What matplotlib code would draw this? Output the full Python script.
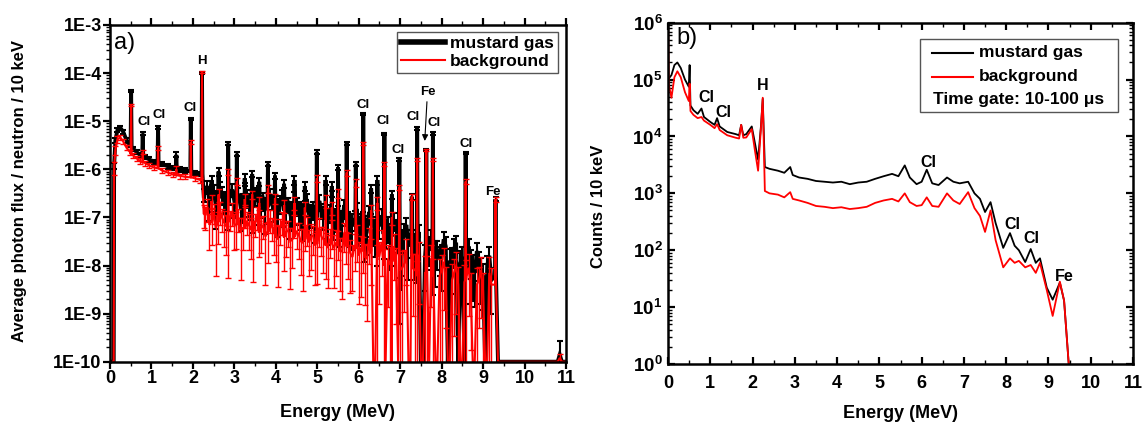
"""
Prompt gamma spectra: mustard gas vs background
a) simulated photon flux with error bars, b) measured counts with time gate
"""

import numpy as np
import matplotlib.pyplot as plt
from matplotlib.ticker import LogLocator, MultipleLocator, NullFormatter, FuncFormatter, FixedLocator
from matplotlib.lines import Line2D
from matplotlib.patches import Rectangle

plt.rcParams['font.family'] = ['Liberation Sans', 'DejaVu Sans']
plt.rcParams['font.weight'] = 'bold'
plt.rcParams['mathtext.fontset'] = 'custom'
plt.rcParams['mathtext.bf'] = 'Liberation Sans:bold'
plt.rcParams['mathtext.rm'] = 'Liberation Sans'

# ---------------- panel a data (photon flux / neutron / 10 keV) ----------------
# low-energy continuum (below the H line)
E_LOW = [0.00, 0.09, 0.10, 0.13, 0.18, 0.25, 0.32, 0.40, 0.48, 0.56, 0.64, 0.72,
         0.85, 0.95, 1.05, 1.25, 1.40, 1.52, 1.70, 1.80, 2.05, 2.18, 2.26]
MUSTARD_LOW = [1e-10, 1e-10, 1.2e-6, 4.0e-6, 6.5e-6, 7.3e-6, 6.0e-6, 4.0e-6, 3.2e-6, 2.7e-6,
               2.3e-6, 2.0e-6, 1.8e-6, 1.6e-6, 1.45e-6, 1.3e-6, 1.15e-6, 1.05e-6, 1.0e-6,
               9.5e-7, 8.5e-7, 8.0e-7, 3.0e-7]
BACKGR_LOW = [1e-10, 1e-10, 1.1e-6, 2.5e-6, 4.2e-6, 4.6e-6, 3.8e-6, 2.8e-6, 2.3e-6, 1.95e-6,
              1.7e-6, 1.5e-6, 1.35e-6, 1.2e-6, 1.1e-6, 9.5e-7, 8.5e-7, 7.8e-7, 7.3e-7,
              7.0e-7, 6.5e-7, 6.0e-7, 1.2e-7]
MUSTARD_LOW_ERR = [0, 0, 0.15, 0.12, 0.1, 0.1, 0.1, 0.1, 0.1, 0.1, 0.1, 0.1,
                   0.1, 0.1, 0.1, 0.1, 0.1, 0.1, 0.1, 0.1, 0.1, 0.1, 0.3]
BACKGR_LOW_ERR = [0, 0, 0.3, 0.2, 0.15, 0.12, 0.12, 0.12, 0.12, 0.12, 0.12, 0.12,
                  0.12, 0.12, 0.12, 0.12, 0.12, 0.12, 0.12, 0.12, 0.12, 0.12, 0.5]

# continuum 2.3 .. 9.2 MeV, 0.1 MeV steps
E_GRID = np.round(np.arange(2.3, 9.25, 0.1), 2)
MUSTARD_GRID = [3.2e-7, 2.1e-7, 3.6e-7, 2.4e-7, 3.0e-7, 2.0e-7, 2.8e-7, 2.2e-7, 3.1e-7, 1.9e-7,
                2.6e-7, 2.0e-7, 2.7e-7, 1.7e-7, 2.3e-7, 1.6e-7, 2.2e-7, 1.5e-7, 2.0e-7, 1.4e-7,
                1.9e-7, 1.3e-7, 1.8e-7, 1.2e-7, 1.6e-7, 1.1e-7, 1.5e-7, 1.0e-7, 1.4e-7, 9.0e-8,
                1.3e-7, 8.5e-8, 1.2e-7, 8.0e-8, 1.1e-7, 7.0e-8, 9.5e-8, 6.5e-8, 8.5e-8, 5.5e-8,
                8.0e-8, 5.0e-8, 7.0e-8, 4.5e-8, 6.5e-8, 4.0e-8, 5.5e-8, 3.0e-9, 4.5e-8, 2.5e-8,
                3.5e-8, 2.2e-8, 1.0e-10, 1.5e-8, 2.5e-8, 1.2e-8, 2.0e-8, 1.5e-8, 2.5e-8, 1.2e-8,
                2.2e-8, 1.0e-10, 1.5e-8, 8.0e-9, 1.3e-8, 7.0e-9, 1.2e-8, 6.0e-9, 1.0e-8, 5.0e-9]
BACKGR_GRID = [1.1e-7, 7.0e-8, 1.3e-7, 8.0e-8, 1.0e-7, 6.5e-8, 9.5e-8, 7.0e-8, 1.0e-7, 6.0e-8,
               8.5e-8, 5.5e-8, 8.0e-8, 5.0e-8, 7.0e-8, 4.5e-8, 6.5e-8, 4.0e-8, 6.0e-8, 3.8e-8,
               5.5e-8, 3.5e-8, 5.0e-8, 3.2e-8, 4.5e-8, 3.0e-8, 4.2e-8, 2.8e-8, 4.0e-8, 2.6e-8,
               3.6e-8, 2.3e-8, 3.3e-8, 2.0e-8, 3.0e-8, 1.8e-8, 2.6e-8, 1.6e-8, 2.3e-8, 1.4e-8,
               2.0e-8, 1.0e-10, 1.6e-8, 1.0e-8, 1.4e-8, 1.0e-10, 1.2e-8, 8.0e-9, 1.1e-8, 1.0e-10,
               9.0e-9, 6.0e-9, 1.0e-10, 7.0e-9, 1.0e-10, 6.0e-9, 1.0e-10, 8.0e-9, 5.0e-9, 1.0e-10,
               7.0e-9, 4.0e-9, 1.0e-10, 6.0e-9, 3.5e-9, 1.0e-10, 5.0e-9, 3.0e-9, 1.0e-10, 4.0e-9]
MUSTARD_GRID_ERR = [0.35, 0.6, 0.3, 0.5, 0.4, 0.6, 0.35, 0.55, 0.3, 0.6,
                    0.4, 0.55, 0.35, 0.6, 0.4, 0.55, 0.35, 0.6, 0.4, 0.55,
                    0.35, 0.6, 0.4, 0.55, 0.35, 0.6, 0.4, 0.55, 0.35, 0.6,
                    0.4, 0.6, 0.45, 0.6, 0.4, 0.65, 0.45, 0.6, 0.5, 0.7,
                    0.5, 0.7, 0.5, 0.7, 0.55, 0.75, 0.6, 0.8, 0.6, 0.8,
                    0.6, 0.8, 0, 0.8, 0.6, 0.8, 0.6, 0.8, 0.6, 0.8,
                    0.6, 0, 0.6, 0.8, 0.6, 0.8, 0.6, 0.8, 0.6, 0.8]
BACKGR_GRID_ERR = [0.5, 0.7, 0.45, 0.65, 0.5, 0.75, 0.45, 0.7, 0.5, 0.65,
                   0.5, 0.75, 0.5, 0.7, 0.5, 0.75, 0.5, 0.7, 0.55, 0.8,
                   0.55, 0.75, 0.55, 0.8, 0.55, 0.8, 0.6, 0.85, 0.6, 0.8,
                   0.6, 0.85, 0.6, 0.9, 0.65, 0.85, 0.7, 0.9, 0.7, 0.95,
                   0.8, 0, 0.9, 1.2, 0.9, 0, 0.95, 1.2, 0.9, 0,
                   0.9, 1.1, 0, 1.2, 0, 1.3, 0, 1.1, 0.9, 0,
                   0.95, 1.3, 0, 1.2, 0.95, 0, 0.9, 1.3, 0, 1.2]

# in-between bins 2.35 .. 9.15 MeV
E_MID = np.round(np.arange(2.35, 9.2, 0.1), 2)
MUSTARD_MID = [4.5e-7, 2.6e-7, 1.9e-7, 4.2e-7, 2.3e-7, 1.8e-7, 3.8e-7, 2.1e-7, 1.7e-7, 3.5e-7,
               2.0e-7, 1.6e-7, 3.2e-7, 1.9e-7, 1.5e-7, 3.0e-7, 1.6e-7, 1.3e-7, 2.8e-7, 1.5e-7,
               1.2e-7, 2.6e-7, 1.4e-7, 1.1e-7, 2.4e-7, 1.2e-7, 1.0e-7, 2.2e-7, 1.1e-7, 9.0e-8,
               2.0e-7, 1.0e-7, 8.0e-8, 1.8e-7, 8.5e-8, 7.0e-8, 1.5e-7, 7.5e-8, 6.0e-8, 1.3e-7,
               6.5e-8, 5.0e-8, 1.1e-7, 5.5e-8, 4.0e-8, 9.0e-8, 4.5e-8, 3.0e-8, 7.0e-8, 3.5e-8,
               2.5e-8, 5.0e-8, 1.0e-10, 2.0e-8, 4.0e-8, 1.8e-8, 1.5e-8, 3.5e-8, 1.0e-10, 1.3e-8,
               3.0e-8, 1.1e-8, 1.0e-10, 2.5e-8, 9.0e-9, 2.0e-8, 8.0e-9, 1.0e-10, 1.6e-8]
BACKGR_MID = [1.6e-7, 9.0e-8, 6.0e-8, 1.4e-7, 8.0e-8, 5.5e-8, 1.3e-7, 7.5e-8, 5.0e-8, 1.2e-7,
              7.0e-8, 4.5e-8, 1.1e-7, 6.0e-8, 4.0e-8, 9.5e-8, 5.5e-8, 3.5e-8, 8.5e-8, 5.0e-8,
              3.2e-8, 7.5e-8, 4.5e-8, 3.0e-8, 6.5e-8, 4.0e-8, 2.6e-8, 6.0e-8, 3.5e-8, 2.3e-8,
              5.5e-8, 3.0e-8, 2.0e-8, 4.8e-8, 2.6e-8, 1.5e-8, 4.0e-8, 2.2e-8, 1.5e-8, 3.5e-8,
              1.0e-10, 1.3e-8, 3.0e-8, 1.0e-10, 1.1e-8, 2.5e-8, 1.0e-10, 9.0e-9, 2.0e-8, 1.0e-10,
              8.0e-9, 1.6e-8, 1.0e-10, 7.0e-9, 1.4e-8, 1.0e-10, 6.0e-9, 1.2e-8, 1.0e-10, 5.0e-9,
              1.0e-8, 1.0e-10, 4.5e-9, 9.0e-9, 1.0e-10, 4.0e-9, 8.0e-9, 1.0e-10, 7.0e-9]
MUSTARD_MID_ERR = [0.3, 0.5, 0.7, 0.3, 0.5, 0.7, 0.3, 0.5, 0.7, 0.3,
                   0.5, 0.7, 0.3, 0.5, 0.7, 0.3, 0.5, 0.7, 0.3, 0.5,
                   0.7, 0.3, 0.5, 0.7, 0.3, 0.5, 0.7, 0.3, 0.5, 0.7,
                   0.3, 0.5, 0.7, 0.3, 0.5, 0.7, 0.35, 0.6, 0.8, 0.35,
                   0.6, 0.8, 0.35, 0.6, 0.8, 0.4, 0.6, 0.8, 0.4, 0.6,
                   0.8, 0.4, 0, 0.6, 0.4, 0.8, 0.6, 0.4, 0, 0.8,
                   0.4, 0.8, 0, 0.4, 0.8, 0.5, 0.8, 0, 0.5]
BACKGR_MID_ERR = [0.5, 0.7, 0.9, 0.5, 0.7, 0.9, 0.5, 0.7, 0.9, 0.5,
                  0.7, 0.9, 0.5, 0.7, 0.9, 0.5, 0.7, 0.9, 0.5, 0.7,
                  0.9, 0.5, 0.7, 0.9, 0.6, 0.8, 0.85, 0.6, 0.8, 0.85,
                  0.6, 0.8, 0.85, 0.6, 0.8, 0.8, 0.7, 0.9, 0.9, 0.7,
                  0, 1.1, 0.8, 0, 1.2, 0.8, 0, 1.2, 0.8, 0,
                  1.2, 0.9, 0, 1.2, 0.9, 0, 1.3, 0.9, 0, 1.2,
                  0.9, 0, 1.3, 0.9, 0, 1.2, 0.9, 0, 1.1]

# discrete gamma lines: top value and the level of the bins beside it
E_PEAK = [0.51, 0.79, 1.16, 1.60, 1.95, 2.22, 2.45, 2.62, 2.85, 3.06, 3.25, 3.43,
          3.60, 3.81, 3.98, 4.20, 4.45, 4.70, 4.99, 5.20, 5.35, 5.50, 5.71, 5.93,
          6.11, 6.30, 6.45, 6.62, 6.80, 6.98, 7.28, 7.41, 7.63, 7.79, 8.58, 9.30]
MUSTARD_PEAK = [4.3e-5, 5.5e-6, 7.5e-6, 2.0e-6, 1.1e-5, 1.0e-4, 6.0e-7, 9.0e-7, 3.4e-6, 2.1e-6,
                6.5e-7, 8.0e-7, 5.5e-7, 1.3e-6, 7.4e-7, 5.0e-7, 6.0e-7, 4.5e-7, 2.3e-6, 6.0e-7,
                4.5e-7, 1.1e-6, 3.5e-6, 1.3e-6, 1.4e-5, 4.0e-7, 6.0e-7, 5.4e-6, 3.0e-7, 1.6e-6,
                2.7e-7, 7.1e-6, 2.5e-6, 5.6e-6, 2.2e-6, 2.4e-7]
MUSTARD_FOOT = [3.0e-6, 1.9e-6, 1.4e-6, 1.0e-6, 9.0e-7, 8.0e-7, 2.5e-7, 2.5e-7, 2.4e-7, 2.2e-7,
                2.0e-7, 2.0e-7, 1.8e-7, 1.7e-7, 1.6e-7, 1.5e-7, 1.4e-7, 1.3e-7, 1.2e-7, 1.1e-7,
                1.0e-7, 1.0e-7, 9.0e-8, 8.0e-8, 7.5e-8, 7.0e-8, 6.5e-8, 6.0e-8, 5.0e-8, 4.5e-8,
                3.5e-8, 3.0e-8, 2.5e-8, 2.0e-8, 1.2e-8, 6.0e-9]
BACKGR_PEAK = [2.2e-5, 2.3e-6, 2.8e-6, 1.0e-6, 3.7e-6, 1.05e-4, 2.2e-7, 3.0e-7, 9.0e-7, 5.6e-7,
               2.4e-7, 3.0e-7, 2.0e-7, 4.0e-7, 2.5e-7, 1.8e-7, 2.0e-7, 1.6e-7, 6.5e-7, 2.2e-7,
               1.6e-7, 3.2e-7, 8.6e-7, 5.3e-7, 3.5e-6, 1.4e-7, 2.0e-7, 1.3e-6, 1.0e-7, 4.3e-7,
               2.7e-7, 1.6e-6, 2.5e-6, 1.6e-6, 5.6e-7, 2.4e-7]
BACKGR_FOOT = [2.1e-6, 1.4e-6, 1.05e-6, 7.5e-7, 6.8e-7, 6.0e-7, 8e-8, 8e-8, 8e-8, 7e-8,
               6e-8, 6e-8, 5e-8, 5e-8, 4.5e-8, 4e-8, 4e-8, 3.5e-8, 3e-8, 3e-8,
               2.8e-8, 2.6e-8, 2.5e-8, 2.2e-8, 2.0e-8, 1.8e-8, 1.6e-8, 1.4e-8, 1.2e-8, 1.0e-8,
               9e-9, 8e-9, 7e-9, 6e-9, 5e-9, 4e-9]
MUSTARD_PEAK_ERR = [0.05, 0.08, 0.06, 0.12, 0.05, 0.03, 0.2, 0.2, 0.08, 0.1, 0.2, 0.15,
                    0.2, 0.1, 0.15, 0.2, 0.2, 0.2, 0.08, 0.2, 0.2, 0.1, 0.08, 0.1,
                    0.05, 0.2, 0.2, 0.06, 0.2, 0.08, 0.15, 0.06, 0.06, 0.06, 0.06, 0.1]
BACKGR_PEAK_ERR = [0.06, 0.1, 0.08, 0.15, 0.08, 0.04, 0.3, 0.3, 0.15, 0.15, 0.3, 0.2,
                   0.3, 0.2, 0.25, 0.3, 0.3, 0.3, 0.15, 0.3, 0.3, 0.2, 0.15, 0.2,
                   0.08, 0.3, 0.3, 0.1, 0.3, 0.12, 0.15, 0.08, 0.06, 0.08, 0.1, 0.12]
PEAK_HALF_WIDTH = 0.012  # MeV, where the neighbouring bins sit

E_TAIL = [9.36, 10.80, 10.85, 10.90, 11.00]
MUSTARD_TAIL = [1e-10, 1e-10, 1.4e-10, 1e-10, 1e-10]
BACKGR_TAIL = [1e-10, 1e-10, 1.2e-10, 1e-10, 1e-10]
MUSTARD_TAIL_ERR = [0, 0, 0.9, 0, 0]
BACKGR_TAIL_ERR = [0, 0, 0.2, 0, 0]

LABELS_A = [('Cl', 0.82, 9.5e-6), ('Cl', 1.18, 1.33e-5), ('Cl', 1.93, 1.86e-5), ('H', 2.21, 1.8e-4),
            ('Cl', 6.10, 2.2e-5), ('Cl', 6.59, 1.0e-5), ('Cl', 6.95, 2.5e-6), ('Cl', 7.31, 1.2e-5),
            ('Fe', 7.67, 4.1e-5), ('Cl', 7.82, 9.1e-6), ('Cl', 8.59, 3.3e-6), ('Fe', 9.24, 3.3e-7)]

# ---------------- panel b data (counts / 10 keV) ----------------
E_B = [0.0, 0.02, 0.08, 0.15, 0.22, 0.3, 0.4, 0.49, 0.51, 0.53,
       0.6, 0.7, 0.79, 0.85, 1.0, 1.1, 1.16, 1.22, 1.4, 1.6,
       1.68, 1.73, 1.78, 1.85, 1.98, 2.05, 2.13, 2.2, 2.24, 2.29,
       2.4, 2.6, 2.75, 2.89, 2.95, 3.1, 3.3, 3.5, 3.7, 3.9,
       4.1, 4.3, 4.5, 4.7, 4.9, 5.1, 5.3, 5.45, 5.6, 5.72,
       5.88, 6.0, 6.12, 6.25, 6.4, 6.6, 6.75, 6.9, 7.1, 7.25,
       7.38, 7.5, 7.63, 7.75, 7.93, 8.09, 8.2, 8.3, 8.45, 8.58,
       8.7, 8.8, 8.96, 9.1, 9.27, 9.37, 9.48]
MUSTARD_B = [1.1e5, 1.05e5, 1.2e5, 1.8e5, 2.0e5, 1.6e5, 1.0e5, 7.5e4, 1.8e5, 3.5e4,
             2.9e4, 2.5e4, 3.1e4, 2.2e4, 1.8e4, 1.6e4, 2.1e4, 1.5e4, 1.2e4, 1.1e4,
             1.05e4, 1.6e4, 1.05e4, 1.1e4, 1.5e4, 8e3, 3.9e3, 1.6e4, 4.6e4, 2.9e3,
             2.7e3, 2.5e3, 2.3e3, 2.9e3, 2.1e3, 1.9e3, 1.8e3, 1.65e3, 1.6e3, 1.55e3,
             1.6e3, 1.45e3, 1.55e3, 1.6e3, 1.8e3, 2.0e3, 2.2e3, 2.0e3, 3.1e3, 1.9e3,
             1.45e3, 1.6e3, 2.6e3, 1.5e3, 1.4e3, 1.9e3, 1.6e3, 1.5e3, 1.6e3, 1.0e3,
             8.0e2, 4.7e2, 7.0e2, 3.0e2, 1.1e2, 2.0e2, 1.2e2, 1.0e2, 6.2e1, 1.05e2,
             6.0e1, 7.2e1, 2.2e1, 1.35e1, 2.7e1, 1.3e1, 1.0]
BACKGR_B = [1e6, 8e4, 4.8e4, 1.1e5, 1.4e5, 1.1e5, 6e4, 4.2e4, 8.5e4, 2.8e4,
            2.4e4, 2.1e4, 2.2e4, 1.9e4, 1.6e4, 1.4e4, 1.65e4, 1.3e4, 1.05e4, 9.5e3,
            9.2e3, 1.6e4, 9.5e3, 9.6e3, 1.35e4, 6e3, 2.5e3, 1.5e4, 4.8e4, 1.1e3,
            1.0e3, 9.5e2, 8.5e2, 1.05e3, 8e2, 7.5e2, 6.8e2, 6.0e2, 5.8e2, 5.5e2,
            5.7e2, 5.3e2, 5.5e2, 5.8e2, 6.8e2, 7.5e2, 8.0e2, 7.2e2, 1.0e3, 7.0e2,
            6.0e2, 6.2e2, 8.5e2, 6.0e2, 5.8e2, 1.0e3, 7.5e2, 6.5e2, 1.05e3, 5.5e2,
            4.0e2, 2.1e2, 5.0e2, 1.5e2, 5.0e1, 7.2e1, 6.0e1, 6.5e1, 5.0e1, 5.5e1,
            4.0e1, 6.0e1, 2.0e1, 7.0, 2.8e1, 1.3e1, 1.0]

LABELS_B = [('Cl', 0.90, 4.8e4), ('Cl', 1.30, 2.6e4), ('H', 2.25, 8.0e4), ('Cl', 6.15, 3.5e3),
            ('Cl', 8.14, 2.8e2), ('Cl', 8.60, 1.6e2), ('Fe', 9.37, 34)]

DECADES_A = [1e-10, 1e-9, 1e-8, 1e-7, 1e-6, 1e-5, 1e-4, 1e-3]
DECADES_B = [1e0, 1e1, 1e2, 1e3, 1e4, 1e5, 1e6]


def spectrum(low, grid, mid, peak, foot, tail):
    """Merge the pieces into one energy-sorted trace."""
    pk = np.asarray(E_PEAK)
    e = np.concatenate([E_LOW, E_GRID, E_MID, pk - PEAK_HALF_WIDTH, pk, pk + PEAK_HALF_WIDTH, E_TAIL])
    v = np.concatenate([low, grid, mid, foot, peak, foot, tail])
    order = np.argsort(e, kind='stable')
    return e[order], v[order]


def error_points(low, grid, mid, peak, tail, rel_parts):
    e = np.concatenate([E_LOW, E_GRID, E_MID, E_PEAK, E_TAIL])
    v = np.concatenate([low, grid, mid, peak, tail])
    r = np.concatenate([np.asarray(p, float) for p in rel_parts])
    keep = r > 0
    return e[keep], v[keep], (v * r)[keep]


def style_log_axis(ax, decades):
    ax.set_yscale('log', nonpositive='clip')
    ax.xaxis.set_major_locator(MultipleLocator(1))
    ax.xaxis.set_minor_locator(MultipleLocator(0.5))
    ax.yaxis.set_major_locator(FixedLocator(decades))
    ax.yaxis.set_minor_locator(LogLocator(base=10, subs=np.arange(2, 10), numticks=20))
    ax.yaxis.set_minor_formatter(NullFormatter())
    for sp in ax.spines.values():
        sp.set_linewidth(1.8)
    ax.tick_params(which='major', length=5, width=1.6, labelsize=13)
    ax.tick_params(which='minor', length=3, width=1.0)


fig = plt.figure(figsize=(11.42, 4.23), dpi=100)

# ---------------- panel a ----------------
ax = fig.add_axes([0.0963, 0.1449, 0.3993, 0.796])
for low, grid, mid, peak, foot, tail, errs, col, lw, elw in [
        (MUSTARD_LOW, MUSTARD_GRID, MUSTARD_MID, MUSTARD_PEAK, MUSTARD_FOOT, MUSTARD_TAIL,
         [MUSTARD_LOW_ERR, MUSTARD_GRID_ERR, MUSTARD_MID_ERR, MUSTARD_PEAK_ERR, MUSTARD_TAIL_ERR],
         'black', 2.8, 1.5),
        (BACKGR_LOW, BACKGR_GRID, BACKGR_MID, BACKGR_PEAK, BACKGR_FOOT, BACKGR_TAIL,
         [BACKGR_LOW_ERR, BACKGR_GRID_ERR, BACKGR_MID_ERR, BACKGR_PEAK_ERR, BACKGR_TAIL_ERR],
         'red', 1.5, 1.0)]:
    e, v = spectrum(low, grid, mid, peak, foot, tail)
    ax.plot(e, v, color=col, lw=lw, solid_joinstyle='miter')
    ee, vv, dv = error_points(low, grid, mid, peak, tail, errs)
    ax.errorbar(ee, vv, yerr=dv, fmt='none', ecolor=col, elinewidth=elw,
                capsize=2.5, capthick=elw)
style_log_axis(ax, DECADES_A)
ax.set_xlim(0, 11)
ax.set_ylim(1e-10, 1e-3)
ax.tick_params(which='both', direction='out', top=True, bottom=True, left=True, right=False)
ax.tick_params(axis='x', which='major', pad=1)
ax.tick_params(axis='y', which='major', pad=1)
ax.yaxis.set_major_formatter(FuncFormatter(lambda v, p: f"1E{int(round(np.log10(v)))}"))
ax.set_xlabel('Energy (MeV)', fontsize=13, fontweight='bold')
ax.set_ylabel('Average photon flux / neutron / 10 keV', fontsize=12, fontweight='bold')
ax.xaxis.set_label_coords(0.5, -0.125)
ax.yaxis.set_label_coords(-0.182, 0.508)
ax.text(0.008, 0.946, 'a)', transform=ax.transAxes, fontsize=17, fontweight='normal',
        ha='left', va='center')
for txt, x, y in LABELS_A:
    ax.text(x, y, txt, fontsize=9.5, fontweight='bold', ha='center', va='center')
ax.annotate('', xy=(7.59, 3.4e-6), xytext=(7.65, 2.9e-5),
            arrowprops=dict(arrowstyle='-|>', color='black', lw=0.8, mutation_scale=9))
leg = ax.legend(handles=[Line2D([], [], color='black', lw=4), Line2D([], [], color='red', lw=1.5)],
                labels=['mustard gas', 'background'], loc='upper right',
                bbox_to_anchor=(0.983, 0.98), borderaxespad=0, fancybox=False, framealpha=1,
                edgecolor='#555555', handlelength=2.5, handletextpad=0.3, borderpad=0.25,
                labelspacing=0.15, prop={'size': 12.5, 'weight': 'bold'})
leg.get_frame().set_linewidth(1.0)

# ---------------- panel b ----------------
bx = fig.add_axes([0.585, 0.1395, 0.4071, 0.8068])
bx.plot(E_B, MUSTARD_B, color='black', lw=1.3)
bx.plot(E_B, BACKGR_B, color='red', lw=1.3)
style_log_axis(bx, DECADES_B)
bx.set_xlim(0, 11)
bx.set_ylim(1, 1e6)
bx.tick_params(which='both', direction='in', top=True, bottom=True, left=True, right=True)
bx.tick_params(axis='x', which='major', pad=8)
bx.tick_params(axis='y', which='major', pad=4, labelsize=13.5)
bx.yaxis.set_major_formatter(FuncFormatter(lambda v, p: r'$\mathbf{10^{%d}}$' % int(round(np.log10(v)))))
bx.set_xlabel('Energy (MeV)', fontsize=13, fontweight='bold')
bx.set_ylabel('Counts / 10 keV', fontsize=12, fontweight='bold')
bx.xaxis.set_label_coords(0.5, -0.12)
bx.yaxis.set_label_coords(-0.133, 0.463)
bx.text(0.019, 0.956, 'b)', transform=bx.transAxes, fontsize=17, fontweight='normal',
        ha='left', va='center')
for txt, x, y in LABELS_B:
    bx.text(x, y, txt, fontsize=11.5, fontweight='bold', ha='center', va='center')

# legend box with time-gate note
bx.add_patch(Rectangle((0.542, 0.739), 0.426, 0.214, transform=bx.transAxes, fill=True,
                       facecolor='white', edgecolor='#555555', lw=1.0, zorder=5))
for yy, col, name in [(0.912, 'black', 'mustard gas'), (0.842, 'red', 'background')]:
    bx.add_line(Line2D([0.568, 0.656], [yy, yy], transform=bx.transAxes, color=col, lw=1.5, zorder=6))
    bx.text(0.669, yy, name, transform=bx.transAxes, fontsize=12.5, fontweight='bold',
            ha='left', va='center', zorder=6)
bx.text(0.570, 0.774, 'Time gate: 10-100 μs', transform=bx.transAxes, fontsize=12.5,
        fontweight='bold', ha='left', va='center', zorder=6)

fig.savefig('out.png', dpi=100)
